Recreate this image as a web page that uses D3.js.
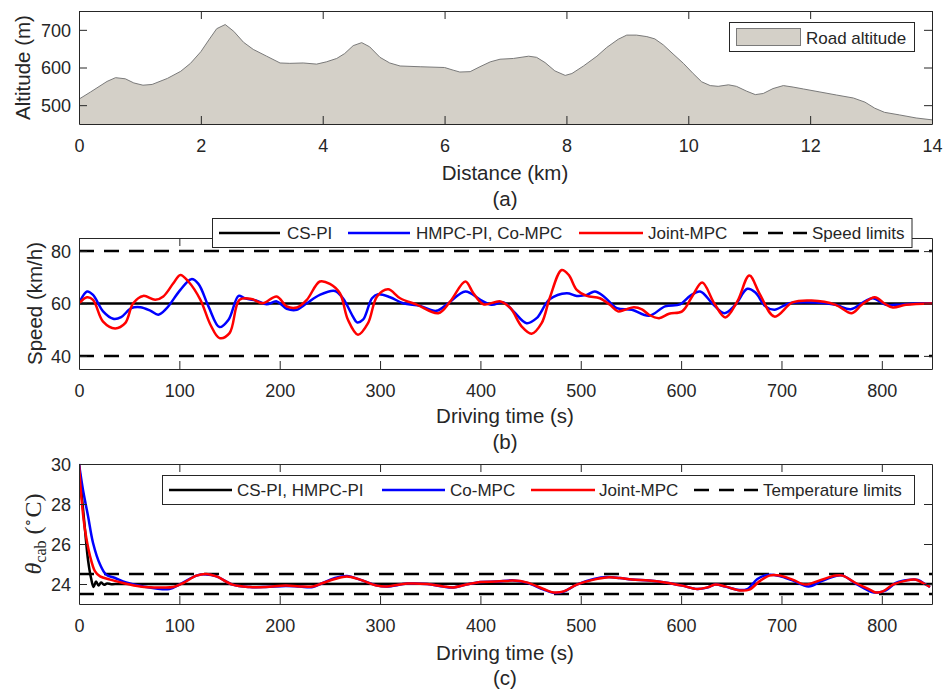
<!DOCTYPE html>
<html>
<head>
<meta charset="utf-8">
<script src="https://d3js.org/d3.v7.min.js"></script>
<style>
  html, body { margin: 0; padding: 0; background: #fff; }
  svg { display: block; }
  text { font-family: "Liberation Sans", Arial, Helvetica, sans-serif; fill: #262626; }
</style>
</head>
<body>
<svg id="chart" width="946" height="691"></svg>
<script>
// ---------------- DATA ----------------
// (a) Road altitude
const altDist = [0,0.19,0.46,0.6,0.76,0.9,1.05,1.2,1.45,1.67,1.83,2.0,2.13,2.26,2.4,2.54,2.7,2.86,3.08,3.3,3.46,3.68,3.9,4.06,4.23,4.36,4.5,4.64,4.77,4.94,5.1,5.27,5.6,6.0,6.14,6.25,6.42,6.58,6.75,6.91,7.13,7.38,7.51,7.65,7.81,7.98,8.09,8.28,8.5,8.66,8.85,8.99,9.15,9.32,9.45,9.59,9.75,9.92,10.08,10.22,10.36,10.49,10.66,10.79,10.96,11.1,11.23,11.39,11.56,11.72,11.89,12.16,12.43,12.71,12.9,13.06,13.22,13.47,13.74,14];
const altValues = [516,535,563,573,570,559,553,555,571,590,611,642,673,703,714,696,667,648,630,612,611,612,609,615,624,637,658,666,655,627,612,604,602,600,593,588,589,602,615,622,624,630,627,613,591,579,584,604,630,653,675,686,686,682,676,660,636,611,584,562,552,550,554,550,537,528,531,544,552,548,543,535,527,519,508,492,481,474,466,461];
const distTicks = [0,2,4,6,8,10,12,14];
const altTicks = [500,600,700];

// (b) Speed
const speedCsPiTime = [0, 850];
const speedCsPi = [60, 60];
const speedHmpcTime = [0,8,14,24,34,42,52,61,71,79,87,101,112,119,129,140,149,159,165,177,187,197,207,217,227,240,255,263,273,277,283,292,298,310,323,340,356,368,385,400,411,423,433,446,456,469,486,496,506,514,523,536,551,568,584,599,609,619,631,643,654,666,674,684,693,708,734,754,769,783,791,804,814,834,850];
const speedHmpc = [60,64.6,63.3,57,54.2,54.8,58.2,58.6,57.3,55.7,58,65.2,69.3,67.5,58.9,51,53.8,62.9,62,61.1,59.7,60.8,58,57.6,60.1,63.3,64.8,62,55,52.8,53.8,62,63.5,62.4,60.1,59.1,57.2,60.1,64.6,61.4,59.5,60.4,57,52.5,54.4,61.6,63.9,62.9,63.3,64.6,62.7,58.2,57.6,55.3,58.9,59.7,62.9,64.6,60.1,56.3,59.5,65.6,64.2,58.9,57.6,60.1,60.4,59.5,57.8,60.8,62,59.5,59.5,60,60];
const speedJointTime = [0,8,14,24,36,46,54,64,76,84,94,101,109,121,131,140,150,160,172,183,197,207,217,227,240,250,260,268,278,288,297,308,320,337,358,370,385,393,403,420,430,441,451,461,469,481,488,496,506,519,529,537,544,553,561,568,578,588,601,611,621,633,644,656,668,678,693,711,730,754,770,780,793,803,811,824,850];
const speedJoint = [60,62.4,61.4,53.1,50.5,52.5,60.1,62.9,61.4,62.7,67.7,70.9,68.4,61.4,51.9,46.8,48.7,61.4,61.7,60.1,62.7,58.9,58.5,61.4,68.4,67.5,63.9,53.8,48.1,52.5,62.7,65.4,62,59.5,56.3,60.8,68.4,63.9,59.7,60.8,58.2,51.3,48.5,52.5,62,72.8,70.9,65.2,62.9,62,59.5,57,57.6,58.6,57.8,55.7,54.4,56.1,57,62.7,68,60.1,54.7,60.8,70.7,63.9,55,60.4,61.1,59.5,56.3,59.5,62.4,59.9,58.5,59.5,60];
const speedLimits = [80, 40];
const timeTicks = [0,100,200,300,400,500,600,700,800];
const speedTicks = [40,60,80];

// (c) Cabin temperature
const tempCsPiTime = [0,3,6,9,12,14.5,17,19.5,22,25,28,32,36,850];
const tempCsPi = [30,28.3,26.7,25.2,24.3,23.85,24.12,23.93,24.07,23.96,24.03,23.99,24,24];
const tempCoTime = [0,4,9,14,21,27,36,47,64,90,100,117,127,137,153,170,186,206,220,233,243,255,267,280,297,307,327,347,363,373,386,400,416,433,446,463,474,483,496,513,526,539,551,568,584,601,616,626,634,644,658,666,676,686,698,711,727,740,754,761,774,790,797,804,814,826,836,843,848];
const tempCo = [30,28.7,27.4,26.05,24.97,24.47,24.3,24.08,23.88,23.75,23.97,24.42,24.48,24.38,23.97,23.85,23.85,23.9,23.87,23.85,24.05,24.3,24.4,24.22,23.92,23.87,24.02,24.0,23.87,23.83,23.97,24.1,24.12,24.18,24.07,23.72,23.55,23.62,23.97,24.25,24.35,24.3,24.22,24.18,24.08,23.92,23.75,23.82,23.97,23.87,23.7,23.75,24.25,24.45,24.4,24.18,23.88,24.15,24.4,24.42,24.02,23.6,23.58,23.68,24.05,24.2,24.2,24.0,23.85];
const tempJointTime = [0,2.6,6,11,16,21,31,44,61,80,94,104,117,127,137,153,170,186,206,220,233,243,255,267,280,297,307,327,347,363,373,386,400,416,433,446,463,473,483,496,513,526,539,551,568,584,601,616,626,634,644,658,668,678,688,698,711,724,738,754,761,774,788,794,801,811,824,833,841,848];
const tempJoint = [30,28.2,26.7,25.4,24.63,24.38,24.22,24.05,23.88,23.83,23.85,24.05,24.42,24.5,24.38,23.97,23.85,23.85,23.92,23.88,23.88,24.05,24.25,24.38,24.22,23.92,23.88,24.02,24.0,23.88,23.83,23.97,24.1,24.12,24.17,24.08,23.75,23.58,23.63,23.97,24.22,24.33,24.3,24.22,24.18,24.08,23.92,23.75,23.83,23.97,23.88,23.68,23.72,24.13,24.42,24.42,24.22,23.97,24.18,24.42,24.42,24.05,23.72,23.58,23.63,23.97,24.17,24.22,24.05,23.85];
const tempLimits = [24.5, 23.5];
const tempTicks = [24,26,28,30];

// ---------------- DRAWING ----------------
const svg = d3.select("#chart");
const L = 79, R = 932;
const AX = "#262626";
const zip = (xs, ys) => xs.map((x, i) => [x, ys[i]]);
const fmt = d3.format("d");

function frame(g, x, y, xt, yt, top, bottom) {
  const bx = g.append("g").attr("transform", `translate(0,${bottom})`)
    .call(d3.axisBottom(x).tickValues(xt).tickFormat(fmt).tickSize(-8).tickSizeOuter(0).tickPadding(0));
  bx.selectAll("text").attr("y", 28).attr("dy", 0).style("font-size", "18px");
  g.append("g").attr("transform", `translate(0,${top})`)
    .call(d3.axisTop(x).tickValues(xt).tickSize(-8).tickSizeOuter(0).tickFormat(""));
  const ly = g.append("g").attr("transform", `translate(${L},0)`)
    .call(d3.axisLeft(y).tickValues(yt).tickFormat(fmt).tickSize(-8).tickSizeOuter(0).tickPadding(8));
  ly.selectAll("text").style("font-size", "18px").attr("dy", "0.35em");
  g.append("g").attr("transform", `translate(${R},0)`)
    .call(d3.axisRight(y).tickValues(yt).tickSize(-8).tickSizeOuter(0).tickFormat(""));
  g.selectAll(".domain").attr("stroke", AX).attr("stroke-width", 1);
  g.selectAll(".tick line").attr("stroke", AX).attr("stroke-width", 1);
  g.selectAll(".tick text").attr("fill", AX).style("font-family", '"Liberation Sans", Arial, sans-serif');
}

function clip(id, top, bottom) {
  svg.append("clipPath").attr("id", id).append("rect")
    .attr("x", L).attr("y", top).attr("width", R - L).attr("height", bottom - top);
}

function xLabel(text, cx, y) {
  svg.append("text").attr("x", cx).attr("y", y).attr("text-anchor", "middle")
    .style("font-size", "20.5px").text(text);
}

// ===== Panel (a) =====
{
  const top = 11, bottom = 124;
  const x = d3.scaleLinear().domain([0, 14]).range([L, R]);
  const y = d3.scaleLinear().domain([450, 750]).range([bottom, top]);
  clip("clipA", top, bottom);
  const g = svg.append("g");
  const pts = zip(altDist, altValues);
  g.append("path").datum(pts).attr("clip-path", "url(#clipA)")
    .attr("d", d3.area().x(d => x(d[0])).y0(y(450)).y1(d => y(d[1])))
    .attr("fill", "#d4d0c8").attr("stroke", "none");
  g.append("path").datum(pts).attr("clip-path", "url(#clipA)")
    .attr("d", d3.line().x(d => x(d[0])).y(d => y(d[1])))
    .attr("fill", "none").attr("stroke", "#7a7a7a").attr("stroke-width", 1);
  frame(g, x, y, distTicks, altTicks, top, bottom);
  svg.append("text").attr("transform", `translate(30,${(top + bottom) / 2}) rotate(-90)`)
    .attr("text-anchor", "middle").style("font-size", "20.5px").text("Altitude (m)");
  xLabel("Distance (km)", 505, 180);
  xLabel("(a)", 505, 206);
  const lg = svg.append("g");
  lg.append("rect").attr("x", 729.5).attr("y", 22.5).attr("width", 185).attr("height", 29)
    .attr("fill", "#fff").attr("stroke", AX).attr("stroke-width", 1);
  lg.append("rect").attr("x", 736.5).attr("y", 28.5).attr("width", 64).attr("height", 17)
    .attr("fill", "#d4d0c8").attr("stroke", "#7a7a7a").attr("stroke-width", 1);
  lg.append("text").attr("x", 806).attr("y", 43.5).style("font-size", "17px").attr("fill", "#000").text("Road altitude");
}

function lineLegend(box, entries, cy) {
  const lg = svg.append("g");
  lg.append("rect").attr("x", box[0]).attr("y", box[1]).attr("width", box[2] - box[0]).attr("height", box[3] - box[1])
    .attr("fill", "#fff").attr("stroke", AX).attr("stroke-width", 1);
  entries.forEach(e => {
    lg.append("line").attr("x1", e.x1).attr("x2", e.x2).attr("y1", cy).attr("y2", cy)
      .attr("stroke", e.color).attr("stroke-width", 2.5)
      .attr("stroke-dasharray", e.dash ? "15,10" : null);
    lg.append("text").attr("x", e.tx).attr("y", cy + 6).style("font-size", "17px").attr("fill", "#000").text(e.label);
  });
}

// ===== Panel (b) =====
{
  const top = 238, bottom = 369;
  const x = d3.scaleLinear().domain([0, 850]).range([L, R]);
  const y = d3.scaleLinear().domain([35, 85]).range([bottom, top]);
  clip("clipB", top, bottom);
  const g = svg.append("g");
  const pg = g.append("g").attr("clip-path", "url(#clipB)");
  const line = d3.line().x(d => x(d[0])).y(d => y(d[1])).curve(d3.curveCatmullRom.alpha(0.5));
  speedLimits.forEach(v => {
    pg.append("line").attr("x1", x(0)).attr("x2", x(850)).attr("y1", y(v)).attr("y2", y(v))
      .attr("stroke", "#000").attr("stroke-width", 2.5).attr("stroke-dasharray", "15,10");
  });
  pg.append("path").datum(zip(speedCsPiTime, speedCsPi)).attr("d", line)
    .attr("fill", "none").attr("stroke", "#000").attr("stroke-width", 2.5);
  pg.append("path").datum(zip(speedHmpcTime, speedHmpc)).attr("d", line)
    .attr("fill", "none").attr("stroke", "#0000ff").attr("stroke-width", 2.5);
  pg.append("path").datum(zip(speedJointTime, speedJoint)).attr("d", line)
    .attr("fill", "none").attr("stroke", "#ff0000").attr("stroke-width", 2.5);
  frame(g, x, y, timeTicks, speedTicks, top, bottom);
  svg.append("text").attr("transform", `translate(42,${(top + bottom) / 2}) rotate(-90)`)
    .attr("text-anchor", "middle").style("font-size", "20.5px").text("Speed (km/h)");
  xLabel("Driving time (s)", 505, 423);
  xLabel("(b)", 505, 449);
  lineLegend([212.5, 218.5, 912, 247.5], [
    { x1: 219, x2: 280, tx: 287, color: "#000", label: "CS-PI" },
    { x1: 348, x2: 410, tx: 416, color: "#0000ff", label: "HMPC-PI, Co-MPC" },
    { x1: 579, x2: 643, tx: 648, color: "#ff0000", label: "Joint-MPC" },
    { x1: 743, x2: 807, tx: 812, color: "#000", dash: true, label: "Speed limits" }
  ], 233);
}

// ===== Panel (c) =====
{
  const top = 464, bottom = 604;
  const x = d3.scaleLinear().domain([0, 850]).range([L, R]);
  const y = d3.scaleLinear().domain([23, 30]).range([bottom, top]);
  clip("clipC", top - 2, bottom);
  const g = svg.append("g");
  const pg = g.append("g").attr("clip-path", "url(#clipC)");
  const line = d3.line().x(d => x(d[0])).y(d => y(d[1])).curve(d3.curveCatmullRom.alpha(0.5));
  tempLimits.forEach(v => {
    pg.append("line").attr("x1", x(0)).attr("x2", x(850)).attr("y1", y(v)).attr("y2", y(v))
      .attr("stroke", "#000").attr("stroke-width", 2.5).attr("stroke-dasharray", "15,10");
  });
  pg.append("path").datum(zip(tempCsPiTime, tempCsPi)).attr("d", line)
    .attr("fill", "none").attr("stroke", "#000").attr("stroke-width", 2.5);
  pg.append("path").datum(zip(tempCoTime, tempCo)).attr("d", line)
    .attr("fill", "none").attr("stroke", "#0000ff").attr("stroke-width", 2.5);
  pg.append("path").datum(zip(tempJointTime, tempJoint)).attr("d", line)
    .attr("fill", "none").attr("stroke", "#ff0000").attr("stroke-width", 2.5);
  frame(g, x, y, timeTicks, tempTicks, top, bottom);
  const yl = svg.append("text").attr("transform", `translate(41,${(top + bottom) / 2}) rotate(-90)`)
    .attr("text-anchor", "middle").style("font-size", "24px")
    .style("font-family", '"Liberation Serif", "Times New Roman", serif');
  yl.append("tspan").style("font-style", "italic").text("θ");
  yl.append("tspan").attr("dy", 5).style("font-size", "16px").text("cab");
  yl.append("tspan").attr("dy", -5).text(" (");
  yl.append("tspan").attr("dy", -9).style("font-size", "14px").text("∘");
  yl.append("tspan").attr("dy", 9).text("C)");
  xLabel("Driving time (s)", 505, 660);
  xLabel("(c)", 505, 685);
  lineLegend([162.5, 475.5, 914.5, 504.5], [
    { x1: 169, x2: 232, tx: 237, color: "#000", label: "CS-PI, HMPC-PI" },
    { x1: 382, x2: 445, tx: 450, color: "#0000ff", label: "Co-MPC" },
    { x1: 531, x2: 595, tx: 599, color: "#ff0000", label: "Joint-MPC" },
    { x1: 694, x2: 758, tx: 763, color: "#000", dash: true, label: "Temperature limits" }
  ], 490);
}
</script>
</body>
</html>
